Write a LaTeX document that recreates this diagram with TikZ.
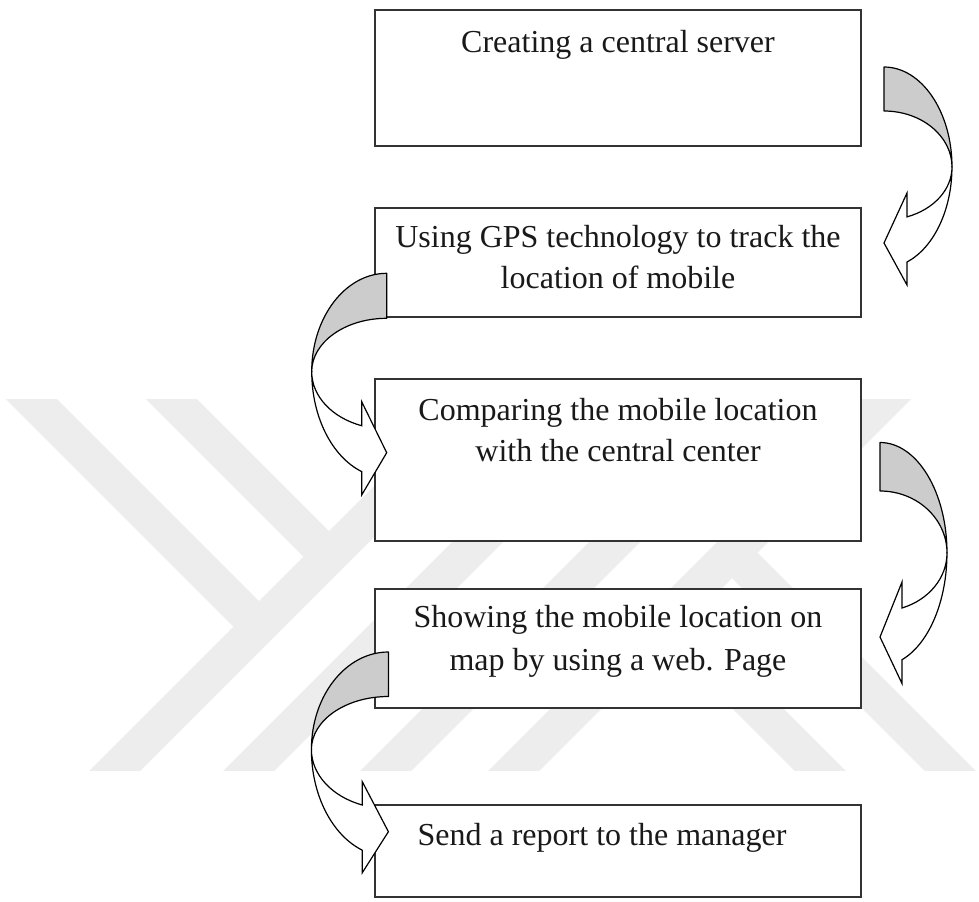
\documentclass[tikz,border=0pt]{standalone}
\usepackage{fontspec}
\setmainfont{Liberation Serif}
\usetikzlibrary{fit,shadows}
\definecolor{wm}{RGB}{237,237,237}
\definecolor{shade}{RGB}{204,204,204}
\begin{document}
\begin{tikzpicture}[x=0.75pt,y=-0.75pt,
  box/.style={draw=black!80, line width=1.1pt, fill=white, inner sep=0pt, outer sep=0pt,
    drop shadow={shadow xshift=1.1pt, shadow yshift=-1.1pt, fill=black!40, opacity=1}},
  txt/.style={font=\fontsize{24pt}{30.75pt}\selectfont, anchor=base, inner sep=0pt, text=black!90},
  back/.style={fill=shade, draw=black, line width=0.9pt, line join=round},
  front/.style={fill=white, draw=black, line width=0.9pt, line join=miter},
  band/.style={fill=wm}]
\useasboundingbox (0,0) rectangle (979,901);
\fill[white] (0,0) rectangle (979,901);

% watermark
\begin{scope}
\clip (0,399) rectangle (979,770);
\foreach \a in {90,224,361,489}
  \fill[band] (\a-20,790) -- (\a+31,790) -- (\a+442,379) -- (\a+391,379) -- cycle;
\fill[band] (-14,379) -- (37,379) -- (284.5,626.5) -- (233.5,626.5) -- cycle;
\fill[band] (126,379) -- (177,379) -- (354.5,556.5) -- (303.5,556.5) -- cycle;
\fill[band] (814,790) -- (865,790) -- (692.5,617.5) -- (641.5,617.5) -- cycle;
\fill[band] (944,790) -- (995,790) -- (757.5,552.5) -- (706.5,552.5) -- cycle;
\end{scope}

% boxes
\coordinate (b1a) at (375,10);  \coordinate (b1b) at (861,146);
\coordinate (b2a) at (375,208); \coordinate (b2b) at (861,317);
\coordinate (b3a) at (375,379); \coordinate (b3b) at (861,541);
\coordinate (b4a) at (375,589); \coordinate (b4b) at (861,708);
\coordinate (b5a) at (375,805); \coordinate (b5b) at (861,897);
\node[box, fit=(b1a)(b1b)] (b1) {};
\node[box, fit=(b2a)(b2b)] (b2) {};
\node[box, fit=(b3a)(b3b)] (b3) {};
\node[box, fit=(b4a)(b4b)] (b4) {};
\node[box, fit=(b5a)(b5b)] (b5) {};

% texts
\node[txt] (t1)  at (618,52)  {Creating a central server};
\node[txt] (t2a) at (618,247) {Using GPS technology to track the};
\node[txt] (t2b) at (618,288) {location of mobile};
\node[txt] (t3a) at (618,420) {Comparing the mobile location};
\node[txt] (t3b) at (618,461) {with the central center};
\node[txt] (t4a) at (618,627) {Showing the mobile location on};
\node[txt] (t4b) at (618,670) {map by using a web. Page};
\node[txt] (t5)  at (602,845) {Send a report to the manager};

% arrow 1 (right)
\filldraw[back] (884,67) arc[start angle=-90,end angle=0,x radius=68,y radius=100]
  arc[start angle=0,end angle=-90,x radius=68,y radius=56] -- cycle;
\filldraw[front] (952,167) arc[start angle=0,end angle=70.2,x radius=68,y radius=53]
  -- (907,193) -- (884,243) -- (907,285) -- (907,262)
  arc[start angle=70.2,end angle=0,x radius=68,y radius=101] -- cycle;

% arrow 2 (left)
\filldraw[back] (386.7,273.3) arc[start angle=-90,end angle=-180,x radius=75,y radius=98.4]
  arc[start angle=180,end angle=270,x radius=75,y radius=53.4] -- cycle;
\filldraw[front] (311.7,371.7) arc[start angle=180,end angle=109.5,x radius=75,y radius=57.3]
  -- (361.7,401.7) -- (386.7,452.7) -- (361.7,495) -- (361.7,471.6)
  arc[start angle=109.5,end angle=180,x radius=75,y radius=106] -- cycle;

% arrow 3 (right)
\filldraw[back] (880,442.5) arc[start angle=-90,end angle=0,x radius=67,y radius=110.5]
  arc[start angle=0,end angle=-90,x radius=67,y radius=62] -- cycle;
\filldraw[front] (947,553) arc[start angle=0,end angle=70.8,x radius=67,y radius=58.2]
  -- (902,582) -- (880,637) -- (902,683.5) -- (902,659.7)
  arc[start angle=70.8,end angle=0,x radius=67,y radius=113] -- cycle;

% arrow 4 (left)
\filldraw[back] (388.4,652) arc[start angle=-90,end angle=-180,x radius=77,y radius=97.5]
  arc[start angle=180,end angle=270,x radius=77,y radius=53] -- cycle;
\filldraw[front] (311.4,749.5) arc[start angle=180,end angle=109.8,x radius=77,y radius=59]
  -- (362.3,781.7) -- (388.4,831.7) -- (362.3,872.7) -- (362.3,850.2)
  arc[start angle=109.8,end angle=180,x radius=77,y radius=107] -- cycle;
\end{tikzpicture}
\end{document}
